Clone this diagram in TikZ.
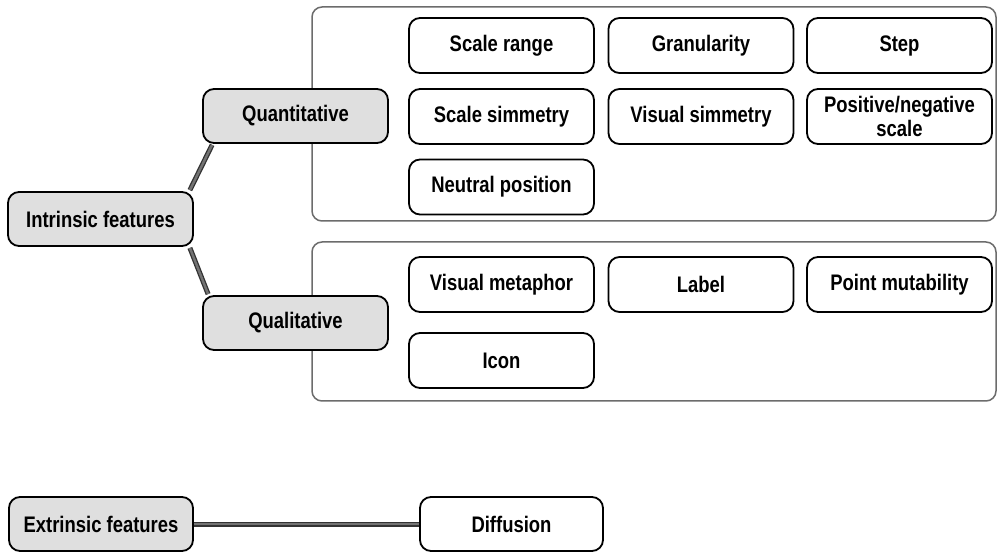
\documentclass[tikz,border=0pt]{standalone}
\usepackage{fontspec}
\newfontfamily\nf{Liberation Sans}[FakeStretch=0.82]
\begin{document}
\begin{tikzpicture}[x=1pt,y=-1pt,
  base/.style={draw=black, line width=1.8pt, rounded corners=11pt, align=center,
    font=\nf\bfseries\fontsize{22.5}{24}\selectfont, inner sep=0pt},
  mainbox/.style={base, fill=gray!25, minimum width=185pt, minimum height=54pt},
  leaf/.style={base, fill=white, minimum width=185pt, minimum height=55pt},
  frame/.style={draw=gray!85!black, line width=1.5pt, rounded corners=10pt},
  conn/.style={draw=black!80, line width=1.3pt, double=gray!90!black, double distance=2.4pt}]
\useasboundingbox (0,0) rectangle (997,553);
% group frames
\draw[frame] (312,7) rectangle (996,221);
\draw[frame] (312,242) rectangle (996,401);
% main nodes
\node[mainbox] (intr) at (100.5,219) {Intrinsic features};
\node[mainbox] (quant) at (295.5,116) {Quantitative};
\node[mainbox] (qual) at (295.5,323) {Qualitative};
\node[mainbox, minimum width=184pt] (extr) at (101,524) {Extrinsic features};
\node[leaf, minimum width=183pt, minimum height=54pt] (diff) at (511.5,524) {Diffusion};
% quantitative leaves
\node[leaf] (sr) at (501.5,45.5) {Scale range};
\node[leaf] (gr) at (701,45.5) {Granularity};
\node[leaf] (st) at (899.5,45.5) {Step};
\node[leaf] (ss) at (501.5,116.5) {Scale simmetry};
\node[leaf] (vs) at (701,116.5) {Visual simmetry};
\node[leaf] (pn) at (899.5,116.5) {Positive/negative\\scale};
\node[leaf] (np) at (501.5,187) {Neutral position};
% qualitative leaves
\node[leaf] (vm) at (501.5,284.5) {Visual metaphor};
\node[leaf] (lb) at (701,284.5) {Label};
\node[leaf] (pm) at (899.5,284.5) {Point mutability};
\node[leaf] (ic) at (501.5,360.5) {Icon};
% connectors
\draw[conn] ([xshift=-4pt,yshift=1pt]intr.north east) -- ([xshift=10pt,yshift=-1pt]quant.south west);
\draw[conn] ([xshift=-4pt,yshift=-1pt]intr.south east) -- ([xshift=6pt,yshift=1pt]qual.north west);
\draw[conn] (extr.east) -- (diff.west);
\end{tikzpicture}
\end{document}
